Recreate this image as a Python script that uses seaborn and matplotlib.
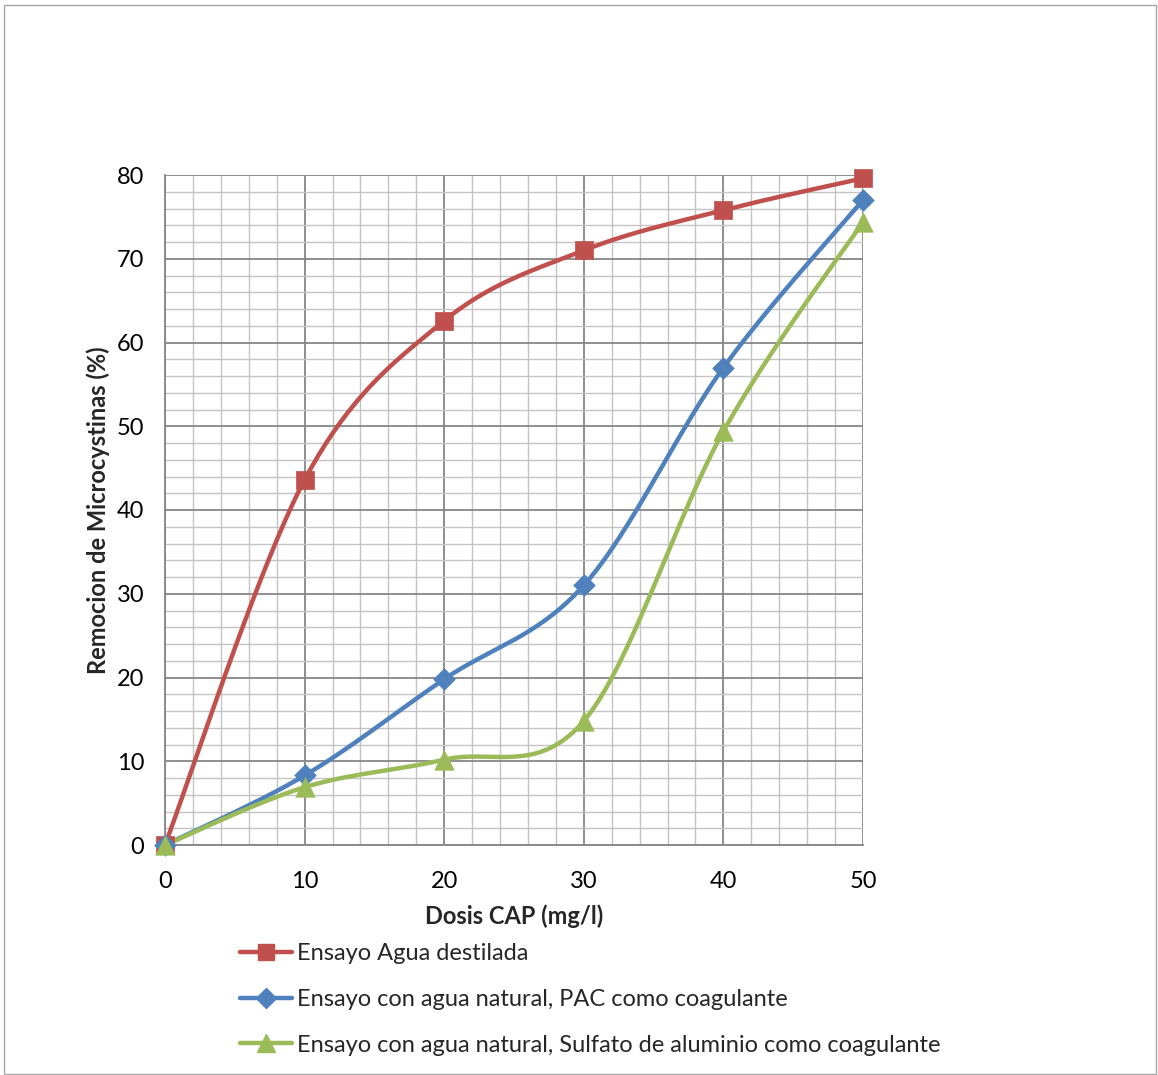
import numpy as np
import pandas as pd
import matplotlib
matplotlib.use("Agg")
import matplotlib.pyplot as plt
from matplotlib.lines import Line2D
from matplotlib.patches import Rectangle
from matplotlib.ticker import MultipleLocator
import seaborn as sns

dosis = [0, 10, 20, 30, 40, 50]
agua_destilada = [0, 43.6, 62.6, 71.0, 75.8, 79.6]
pac = [0, 8.3, 19.8, 31.0, 57.0, 77.0]
sulfato = [0, 6.9, 10.2, 14.8, 49.4, 74.4]

labels = ["Ensayo Agua destilada",
          "Ensayo con agua natural, PAC como coagulante",
          "Ensayo con agua natural, Sulfato de aluminio como coagulante"]
colors = ["#C0504D", "#4F81BD", "#9BBB59"]
markers = ["s", "D", "^"]
msizes = [13, 11, 14]

sns.set_theme(style="white")
plt.rcParams['font.family'] = ['Lato', 'DejaVu Sans']
FS = 17


def smooth(x, y, n=40):
    """Excel-like smoothed line (Bezier with Catmull-Rom control points)."""
    P = np.column_stack([x, y]).astype(float)
    out = []
    for i in range(len(P) - 1):
        p0 = P[i - 1] if i > 0 else P[i]
        p1 = P[i]
        p2 = P[i + 1]
        p3 = P[i + 2] if i + 2 < len(P) else P[i + 1]
        c1 = p1 + (p2 - p0) / 6.0
        c2 = p2 - (p3 - p1) / 6.0
        t = np.linspace(0, 1, n)[:, None]
        seg = ((1 - t) ** 3) * p1 + 3 * ((1 - t) ** 2) * t * c1 + 3 * (1 - t) * t ** 2 * c2 + t ** 3 * p2
        if i > 0:
            seg = seg[1:]
        out.append(seg)
    out = np.vstack(out)
    return out[:, 0], out[:, 1]


fig = plt.figure(figsize=(11.58, 10.75), dpi=100)
ax = fig.add_axes([165 / 1158, 1 - 845 / 1075, (863 - 165) / 1158, (845 - 175) / 1075])

ax.set_xlim(0, 50)
ax.set_ylim(0, 80)
ax.xaxis.set_major_locator(MultipleLocator(10))
ax.xaxis.set_minor_locator(MultipleLocator(2))
ax.yaxis.set_major_locator(MultipleLocator(10))
ax.yaxis.set_minor_locator(MultipleLocator(2))
ax.grid(which="major", color="#868686", linewidth=1.3, zorder=0)
ax.grid(which="minor", color="#C4C4C4", linewidth=1.0, zorder=0)
ax.set_axisbelow(True)

series = [agua_destilada, pac, sulfato]
for vals, c, m, ms in zip(series, colors, markers, msizes):
    sx, sy = smooth(dosis, vals)
    df = pd.DataFrame({"x": sx, "y": sy})
    sns.lineplot(data=df, x="x", y="y", sort=False, estimator=None, color=c,
                 linewidth=3.2, ax=ax, zorder=3, clip_on=False)
    dfp = pd.DataFrame({"x": dosis, "y": vals})
    sns.scatterplot(data=dfp, x="x", y="y", marker=m, s=ms ** 2, color=c,
                    edgecolor=c, linewidth=0.5, ax=ax, zorder=4, clip_on=False)

for s in ["top", "right"]:
    ax.spines[s].set_visible(False)
for s in ["left", "bottom"]:
    ax.spines[s].set_color("#868686")
    ax.spines[s].set_linewidth(1.3)

ax.tick_params(axis="both", which="major", length=7, width=1.3, color="#868686",
               labelsize=FS, labelcolor="black", direction="out")
ax.tick_params(axis="x", which="major", pad=12)
ax.tick_params(axis="y", which="major", pad=8)
ax.tick_params(axis="both", which="minor", length=0)

ax.set_xlabel("Dosis CAP (mg/l)", fontsize=FS, fontweight="bold", labelpad=9)
ax.set_ylabel("Remocion de Microcystinas (%)", fontsize=FS, fontweight="bold", labelpad=5)

handles = [Line2D([0], [0], color=c, lw=3.2, marker=m, markersize=ms * 0.9)
           for c, m, ms in zip(colors, markers, msizes)]
fig.legend(handles, labels, loc="upper left", bbox_to_anchor=(240 / 1158, 1 - 943 / 1075),
           frameon=False, fontsize=FS, handlelength=2.2, handletextpad=0.2,
           labelspacing=1.05, borderaxespad=0, borderpad=0)

fig.patches.append(Rectangle((4 / 1158, 1 / 1075), 1152 / 1158, 1069 / 1075,
                             transform=fig.transFigure, fill=False,
                             edgecolor="#A6A6A6", linewidth=1.0))

fig.savefig("out.png", dpi=100, facecolor="white")
